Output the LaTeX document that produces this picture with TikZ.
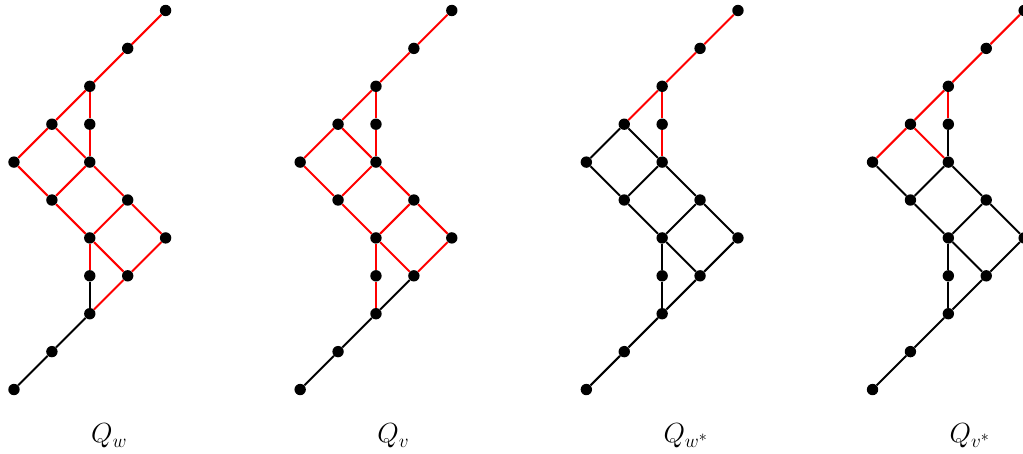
\documentclass[tikz,border=0pt]{standalone}
\begin{document}
\begin{tikzpicture}[dot/.style={circle,fill=black,inner sep=0pt,minimum size=0.3cm},
  edge/.style={line width=1.5pt},
  redge/.style={edge,red},
  lbl/.style={anchor=base west,inner sep=0pt,font=\huge}]
  \useasboundingbox (-0.369,-1.676) rectangle (26.62,10.277);
  % vertices of the four posets
  \foreach \s/\q in {0/w,7.55/v,15.1/ws,22.65/vs}{
    \begin{scope}[xshift=\s cm]
      \node[dot] (\q00) at (0,0) {};
      \node[dot] (\q11) at (1,1) {};
      \node[dot] (\q22) at (2,2) {};
      \node[dot] (\q23) at (2,3) {};
      \node[dot] (\q33) at (3,3) {};
      \node[dot] (\q24) at (2,4) {};
      \node[dot] (\q44) at (4,4) {};
      \node[dot] (\q15) at (1,5) {};
      \node[dot] (\q35) at (3,5) {};
      \node[dot] (\q06) at (0,6) {};
      \node[dot] (\q26) at (2,6) {};
      \node[dot] (\q17) at (1,7) {};
      \node[dot] (\q27) at (2,7) {};
      \node[dot] (\q28) at (2,8) {};
      \node[dot] (\q39) at (3,9) {};
      \node[dot] (\q410) at (4,10) {};
    \end{scope}
  }
  % Q_w
  \foreach \a/\b in {00/11,11/22,22/23}
    \draw[edge] (w\a) -- (w\b);
  \foreach \a/\b in {23/24,22/33,33/24,33/44,24/15,24/35,44/35,15/26,15/06,35/26,
                     26/27,27/28,26/17,06/17,17/28,28/39,39/410}
    \draw[redge] (w\a) -- (w\b);
  % Q_v
  \foreach \a/\b in {00/11,11/22,22/33}
    \draw[edge] (v\a) -- (v\b);
  \foreach \a/\b in {22/23,23/24,33/24,33/44,24/15,24/35,44/35,15/26,15/06,35/26,
                     26/27,27/28,26/17,06/17,17/28,28/39,39/410}
    \draw[redge] (v\a) -- (v\b);
  % Q_w*
  \foreach \a/\b in {00/11,11/22,22/23,23/24,22/33,33/24,33/44,24/15,24/35,44/35,
                     15/26,15/06,35/26,26/17,06/17}
    \draw[edge] (ws\a) -- (ws\b);
  \foreach \a/\b in {26/27,27/28,17/28,28/39,39/410}
    \draw[redge] (ws\a) -- (ws\b);
  % Q_v*
  \foreach \a/\b in {00/11,11/22,22/23,23/24,22/33,33/24,33/44,24/15,24/35,44/35,
                     15/26,15/06,35/26,26/27}
    \draw[edge] (vs\a) -- (vs\b);
  \foreach \a/\b in {27/28,26/17,06/17,17/28,28/39,39/410}
    \draw[redge] (vs\a) -- (vs\b);
  % labels
  \node[lbl] (lw) at (2.03,-1.41) {$Q_w$};
  \node[lbl] (lv) at (9.58,-1.41) {$Q_v$};
  \node[lbl] (lws) at (17.13,-1.41) {$Q_{w^*}$};
  \node[lbl] (lvs) at (24.68,-1.41) {$Q_{v^*}$};
\end{tikzpicture}
\end{document}
